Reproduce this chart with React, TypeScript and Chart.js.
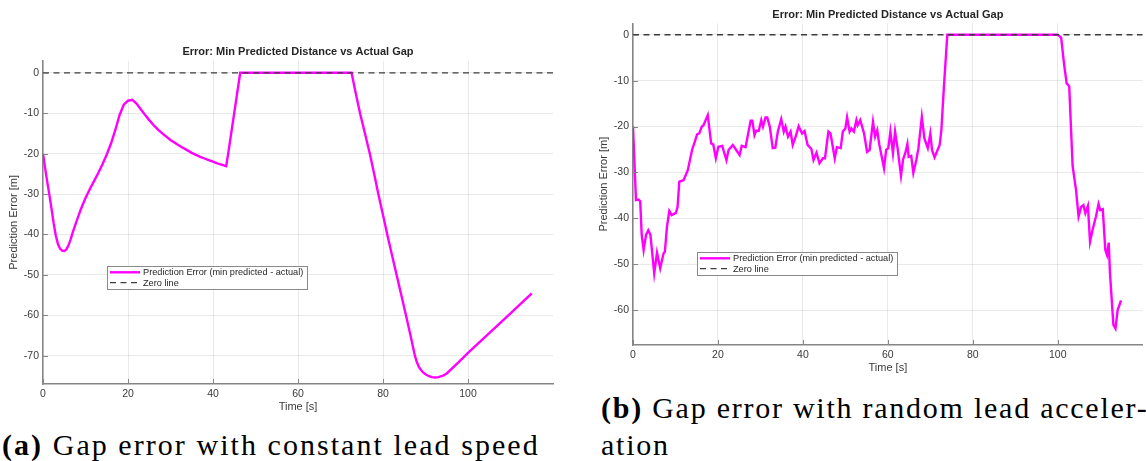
import React, { useEffect, useRef } from 'react';
import { Chart, registerables } from 'chart.js';

Chart.register(...registerables);

const SANS = '"Liberation Sans", Arial, Helvetica, sans-serif';
const SERIF = '"Liberation Serif", "Times New Roman", serif';

const chartTitle = 'Error: Min Predicted Distance vs Actual Gap';
const xAxisTitle = 'Time [s]';
const yAxisTitle = 'Prediction Error [m]';
const errorSeriesName = 'Prediction Error (min predicted - actual)';
const zeroSeriesName = 'Zero line';

const timeTicks = [0, 20, 40, 60, 80, 100];
const errorTicksConstant = [-70, -60, -50, -40, -30, -20, -10, 0];
const errorTicksRandom = [-60, -50, -40, -30, -20, -10, 0];

const zeroLineTime = [0, 120];
const zeroLineValue = [0, 0];

// (a) constant lead speed
const constantTime = [
  0, 0.5, 1, 1.5, 2, 2.5, 3, 3.5, 4, 4.5,
  5, 5.5, 6, 6.5, 7, 8, 9, 10, 11, 12,
  13, 14, 15, 16, 17, 18, 19, 20, 21, 22,
  23, 24, 25, 26, 27, 28, 29, 30, 31, 32,
  33, 34, 35, 36, 37, 38, 39, 40, 41, 42,
  43.1, 43.6, 46.4, 50, 55, 60, 65, 70, 72.6, 73.5,
  74.6, 75.8, 76.9, 78, 78.9, 80, 81, 82, 83.2, 84.3,
  85.4, 86.5, 87.5, 88, 88.5, 89, 89.5, 90, 90.5, 91,
  91.5, 92.2, 93, 94, 95, 97.5, 100, 105, 110, 115,
];
const constantError = [
  -20, -23.6, -27, -30.2, -33.6, -37.2, -40.2, -42.3, -43.5, -44.0,
  -44.1, -43.7, -42.7, -41.2, -39.5, -36.4, -33.5, -31.0, -28.8, -26.8,
  -24.8, -22.6, -20.2, -17.5, -14.2, -10.5, -7.9, -6.9, -6.7, -7.6,
  -9.0, -10.4, -11.7, -12.9, -14.0, -14.9, -15.8, -16.6, -17.3, -18.0,
  -18.6, -19.2, -19.8, -20.3, -20.8, -21.2, -21.6, -22.0, -22.4, -22.7,
  -23.1, -19.8, 0, 0, 0, 0, 0, 0, 0, -4.6,
  -10, -15.2, -20, -25.4, -30, -35.2, -40, -44.6, -50, -55,
  -60, -65.1, -70, -71.7, -72.9, -73.6, -74.2, -74.6, -74.9, -75.1,
  -75.3, -75.4, -75.3, -75.0, -74.4, -71.9, -69.3, -64.4, -59.5, -54.6,
];

// (b) random lead acceleration
const randomTime = [
  0, 0.7, 1.3, 1.7, 2.05, 2.5, 3.07, 3.6, 4.1, 5.0,
  5.65, 6.4, 7.2, 7.5, 8.0, 8.55, 9.1, 10.1, 10.5, 10.9,
  11.9, 12.9, 13.9, 14.4, 15.1, 15.6, 16.2, 16.6, 17.6, 18.4,
  18.9, 19.5, 20.1, 21.0, 22.0, 22.5, 23.5, 24.3, 25.1, 25.6,
  26.5, 27.7, 28.1, 28.6, 29.0, 29.6, 30.2, 30.6, 31.2, 31.6,
  32.2, 32.9, 33.5, 34.1, 34.9, 35.5, 35.9, 36.5, 37.1, 37.6,
  38.3, 39.0, 39.8, 40.4, 41.1, 42.0, 42.5, 43.2, 43.9, 44.7,
  45.2, 46.0, 46.5, 47.5, 48.0, 48.9, 49.4, 50.0, 50.4, 51.0,
  51.4, 52.0, 52.6, 52.9, 53.5, 54.4, 55.1, 55.7, 56.5, 57.0,
  57.5, 58.0, 59.1, 59.6, 60.1, 60.6, 61.2, 61.7, 62.3, 63.1,
  63.6, 64.1, 64.6, 64.9, 65.5, 66.0, 66.7, 67.2, 68.0, 68.6,
  69.4, 70.0, 70.4, 71.0, 72.2, 72.6, 73.2, 74.0, 100.0, 100.8,
  101.5, 102.1, 102.7, 103.5, 104.3, 104.9, 105.5, 106.05, 106.5, 107.1,
  107.6, 108.2, 109.0, 109.6, 110.0, 110.6, 111.2, 111.6, 112.0, 112.3,
  113.1, 113.6, 114.1, 114.9,
];
const randomError = [
  -20, -36, -35.9, -36.3, -43.6, -46.9, -43.6, -42.6, -43.6, -52.0,
  -47.5, -50.9, -47.6, -47.3, -41.8, -38.4, -39.3, -38.8, -37.5, -32.0,
  -31.7, -29.5, -25.1, -23.7, -21.7, -21.5, -20.0, -19.7, -17.5, -23.7,
  -23.9, -26.9, -24.4, -24.2, -27.3, -25.1, -24.0, -25.1, -26.2, -24.2,
  -24.5, -18.7, -18.7, -21.9, -20.9, -20.9, -18.6, -20.0, -18.0, -18.0,
  -20.0, -24.7, -24.6, -21.1, -18.4, -21.1, -20.0, -22.2, -21.1, -24.0,
  -22.2, -19.9, -21.5, -21.0, -24.0, -24.9, -27.3, -25.7, -28.0, -26.9,
  -26.9, -21.1, -21.5, -26.9, -24.5, -24.7, -21.1, -20.4, -18.0, -21.1,
  -20.4, -21.1, -18.6, -19.7, -18.6, -21.5, -25.5, -25.1, -19.0, -22.2,
  -20.8, -24.0, -29.1, -25.1, -24.7, -21.1, -25.8, -21.1, -24.8, -30.7,
  -27.1, -25.8, -23.8, -26.6, -26.4, -30.1, -27.3, -24.7, -17.9, -22.6,
  -24.7, -21.5, -25.1, -26.7, -24.0, -20.8, -11.3, 0, 0, -0.6,
  -6.5, -10.6, -11.2, -28.6, -33.8, -39.6, -37.5, -37.1, -38.9, -37.3,
  -45.1, -42.5, -39.6, -36.9, -38.2, -38.0, -46.9, -48.0, -45.3, -52.0,
  -63.2, -64.0, -60.0, -57.9,
];

const MAGENTA = '#ff00ff';
const AXIS = '#858585';
const TEXT = '#3a3a3a';
const GRID = 'rgba(0,0,0,0.085)';

const pairs = (xs: number[], ys: number[]) => xs.map((x, i) => ({ x, y: ys[i] }));

// Title over the plot box, inward tick marks and the in-axes legend box
const framePlugin = {
  id: 'frame',
  afterDraw(chart: any, _args: any, opts: any) {
    const { ctx, chartArea: a, scales } = chart;
    ctx.save();

    ctx.strokeStyle = AXIS;
    ctx.lineWidth = 1;
    scales.x.ticks.forEach((t: any) => {
      const x = Math.round(scales.x.getPixelForValue(t.value)) + 0.5;
      ctx.beginPath();
      ctx.moveTo(x, a.bottom);
      ctx.lineTo(x, a.bottom - 5);
      ctx.stroke();
    });
    scales.y.ticks.forEach((t: any) => {
      const y = Math.round(scales.y.getPixelForValue(t.value)) + 0.5;
      ctx.beginPath();
      ctx.moveTo(a.left, y);
      ctx.lineTo(a.left + 5, y);
      ctx.stroke();
    });

    ctx.fillStyle = '#262626';
    ctx.font = `bold 11px ${SANS}`;
    ctx.textAlign = 'center';
    ctx.textBaseline = 'middle';
    ctx.fillText(opts.title, (a.left + a.right) / 2, a.top - opts.titleGap);

    const bx = Math.round(a.left + opts.legendX);
    const by = Math.round(a.top + opts.legendY);
    const bw = opts.legendW;
    const bh = opts.legendH;
    ctx.fillStyle = '#ffffff';
    ctx.fillRect(bx, by, bw, bh);
    ctx.strokeStyle = '#8a8a8a';
    ctx.lineWidth = 1;
    ctx.strokeRect(bx + 0.5, by + 0.5, bw, bh);

    ctx.font = `9.2px ${SANS}`;
    ctx.textAlign = 'left';
    chart.data.datasets.forEach((ds: any, i: number) => {
      const ly = by + 6.3 + i * 10.4;
      ctx.save();
      ctx.strokeStyle = ds.borderColor;
      ctx.lineWidth = ds.borderWidth;
      ctx.setLineDash(ds.borderDash || []);
      ctx.beginPath();
      ctx.moveTo(bx + 3, ly);
      ctx.lineTo(bx + 33, ly);
      ctx.stroke();
      ctx.restore();
      ctx.fillStyle = '#262626';
      ctx.fillText(ds.label, bx + 36, ly + 0.5);
    });

    ctx.restore();
  },
};

type PanelProps = {
  left: number;
  top: number;
  width: number;
  height: number;
  padTop: number;
  padRight: number;
  time: number[];
  error: number[];
  yMin: number;
  yMax: number;
  yTicks: number[];
  legendY: number;
};

function ErrorPanel(p: PanelProps) {
  const ref = useRef<HTMLCanvasElement | null>(null);

  useEffect(() => {
    if (!ref.current) return;
    const chart = new Chart(ref.current, {
      type: 'line',
      data: {
        datasets: [
          {
            label: errorSeriesName,
            data: pairs(p.time, p.error),
            borderColor: MAGENTA,
            borderWidth: 2.4,
            pointRadius: 0,
            tension: 0,
            fill: false,
            order: 1,
          },
          {
            label: zeroSeriesName,
            data: pairs(zeroLineTime, zeroLineValue),
            borderColor: '#3d3d3d',
            borderWidth: 1.3,
            borderDash: [6, 4.5],
            pointRadius: 0,
            fill: false,
            order: 0,
          },
        ],
      },
      options: {
        animation: false,
        responsive: false,
        devicePixelRatio: 1,
        layout: { padding: { top: p.padTop, right: p.padRight, left: 0, bottom: 0 } },
        plugins: {
          legend: { display: false },
          tooltip: { enabled: false },
          title: { display: false },
          frame: {
            title: chartTitle,
            titleGap: 8.5,
            legendX: 64,
            legendY: p.legendY,
            legendW: 200,
            legendH: 23,
          },
        } as any,
        scales: {
          x: {
            type: 'linear',
            min: 0,
            max: 120,
            afterBuildTicks: (s: any) => {
              s.ticks = timeTicks.map((v) => ({ value: v }));
            },
            afterFit: (s: any) => {
              s.height = 36;
            },
            grid: { color: GRID, lineWidth: 1, drawTicks: false },
            border: { display: true, color: AXIS, width: 1.5 },
            ticks: {
              color: TEXT,
              font: { family: SANS, size: 10.5 },
              padding: 4,
              maxRotation: 0,
              autoSkip: false,
            },
            title: {
              display: true,
              text: xAxisTitle,
              color: TEXT,
              font: { family: SANS, size: 11 },
              padding: { top: 0, bottom: 6.5 },
            },
          },
          y: {
            type: 'linear',
            min: p.yMin,
            max: p.yMax,
            afterBuildTicks: (s: any) => {
              s.ticks = p.yTicks.map((v) => ({ value: v }));
            },
            afterFit: (s: any) => {
              s.width = 43;
            },
            grid: { color: GRID, lineWidth: 1, drawTicks: false },
            border: { display: true, color: AXIS, width: 1.5 },
            ticks: {
              color: TEXT,
              font: { family: SANS, size: 10.5 },
              padding: 4,
              autoSkip: false,
            },
            title: {
              display: true,
              text: yAxisTitle,
              color: TEXT,
              font: { family: SANS, size: 11 },
              padding: { top: 7, bottom: 0 },
            },
          },
        },
      },
      plugins: [framePlugin],
    });
    return () => chart.destroy();
  }, []);

  return (
    <canvas
      ref={ref}
      width={p.width}
      height={p.height}
      style={{ position: 'absolute', left: p.left, top: p.top, width: p.width, height: p.height }}
    />
  );
}

const captionStyle: React.CSSProperties = {
  position: 'absolute',
  fontFamily: SERIF,
  fontSize: 30,
  lineHeight: '37px',
  whiteSpace: 'nowrap',
  color: '#000',
};

export default function App() {
  return (
    <div
      style={{
        position: 'fixed',
        left: 0,
        top: 0,
        width: 1146,
        height: 461,
        background: '#ffffff',
        overflow: 'hidden',
      }}
    >
      <ErrorPanel
        left={0}
        top={40}
        width={570}
        height={380}
        padTop={20.7}
        padRight={17}
        time={constantTime}
        error={constantError}
        yMin={-77}
        yMax={3}
        yTicks={errorTicksConstant}
        legendY={205.3}
      />
      <ErrorPanel
        left={590}
        top={0}
        width={556}
        height={381}
        padTop={23.3}
        padRight={3.3}
        time={randomTime}
        error={randomError}
        yMin={-67.6}
        yMax={2.5}
        yTicks={errorTicksRandom}
        legendY={228.4}
      />
      <div style={{ ...captionStyle, left: 2, top: 426, letterSpacing: '2.05px' }}>
        <b>(a)</b> Gap error with constant lead speed
      </div>
      <div style={{ ...captionStyle, left: 601, top: 389, letterSpacing: '1.75px' }}>
        <b>(b)</b> Gap error with random lead acceler-
        <br />
        ation
      </div>
    </div>
  );
}
